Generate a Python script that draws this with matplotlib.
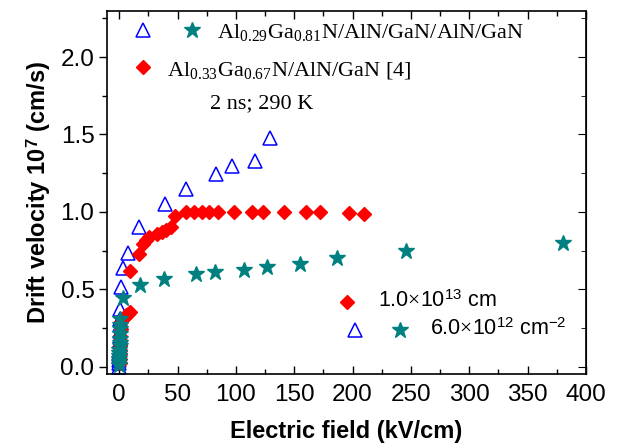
import numpy as np
import matplotlib
matplotlib.use("Agg")
import matplotlib.pyplot as plt

plt.rcParams['font.family'] = ['Liberation Sans', 'DejaVu Sans']
plt.rcParams['mathtext.fontset'] = 'custom'
plt.rcParams['mathtext.rm'] = 'Liberation Serif'
plt.rcParams['mathtext.it'] = 'Liberation Serif:italic'
plt.rcParams['mathtext.sf'] = 'Liberation Sans'
plt.rcParams['mathtext.bf'] = 'Liberation Sans:bold'

# Al0.29Ga0.81N/AlN/GaN/AlN/GaN, 6e12 (open triangles)
tri_x = [0.0, 0.0, 0.1, 0.1, 0.2, 0.2, 0.3, 0.3, 0.4, 0.5, 0.6, 0.8, 1.0, 1.0,
         1.9, 3.3, 7.6, 17.0, 39.0, 57.0, 83.0, 97.0, 116.0, 129.0]
tri_y = [0.0, 0.02, 0.04, 0.06, 0.08, 0.10, 0.12, 0.14, 0.17, 0.20, 0.23, 0.27, 0.31, 0.37,
         0.515, 0.635, 0.735, 0.90, 1.05, 1.145, 1.243, 1.297, 1.327, 1.48]

# Al0.33Ga0.67N/AlN/GaN [4], 1e13 (diamonds)
dia_x = [0.5, 0.5, 0.6, 0.7, 0.8, 0.9, 1.0, 1.2, 1.5, 4.7, 6.0, 7.5, 9.6, 9.6,
         17.0, 20.5, 23.0, 25.5, 32.5, 37.0, 40.0, 44.0, 47.7, 57.0, 64.3, 70.6,
         77.2, 84.4, 98.4, 113.6, 123.0, 141.3, 160.0, 172.0, 197.0, 209.5]
dia_y = [0.02, 0.05, 0.08, 0.11, 0.14, 0.17, 0.20, 0.24, 0.29, 0.32, 0.33, 0.34, 0.35, 0.62,
         0.73, 0.79, 0.82, 0.835, 0.855, 0.87, 0.885, 0.905, 0.975, 1.0, 1.0, 1.0,
         1.0, 1.0, 1.0, 1.0, 1.0, 1.0, 1.0, 1.0, 0.99, 0.985]

# Al0.29Ga0.81N/AlN/GaN/AlN/GaN, 6e12 (stars)
star_x = [0.0, 0.0, 0.1, 0.1, 0.2, 0.2, 0.3, 0.3, 0.4, 0.4, 0.5, 0.6, 1.0, 3.3,
          17.6, 38.5, 65.7, 82.3, 107.0, 126.4, 155.0, 187.0, 246.0, 380.0]
star_y = [0.01, 0.03, 0.05, 0.07, 0.09, 0.11, 0.13, 0.15, 0.18, 0.21, 0.24, 0.27, 0.31, 0.44,
          0.53, 0.566, 0.60, 0.613, 0.624, 0.645, 0.66, 0.70, 0.75, 0.80]

teal = '#008080'

fig = plt.figure(figsize=(6.18, 4.44), dpi=100)
ax = fig.add_axes([0.173, 0.157, 0.775, 0.819])

ax.plot(tri_x, tri_y, ls='none', marker='^', ms=10, mfc='none', mec='#0000ff', mew=1.1)
ax.plot(dia_x, dia_y, ls='none', marker='D', ms=7.5, mfc='red', mec='red')
ax.plot(star_x, star_y, ls='none', marker='*', ms=12, mfc=teal, mec=teal)

ax.set_xlim(-10.5, 400)
ax.set_ylim(-0.05, 2.3)
ax.set_xticks(np.arange(0, 401, 50))
ax.set_xticks(np.arange(25, 400, 50), minor=True)
ax.set_yticks(np.arange(0, 2.01, 0.5))
ax.set_yticks(np.arange(0.25, 2.3, 0.5), minor=True)
ax.yaxis.set_major_formatter(matplotlib.ticker.FormatStrFormatter('%.1f'))

ax.tick_params(axis='x', which='both', direction='in', top=True, labelsize=17.5, pad=7)
ax.tick_params(axis='y', which='both', direction='out', labelsize=17.5, pad=3)
ax.tick_params(which='major', length=6, width=1)
ax.tick_params(which='minor', length=3.5, width=1)
# right side ticks point inward
ax2 = ax.secondary_yaxis('right')
ax2.set_yticks(np.arange(0, 2.01, 0.5))
ax2.set_yticks(np.arange(0.25, 2.3, 0.5), minor=True)
ax2.tick_params(which='both', direction='in', labelright=False)
ax2.tick_params(which='major', length=6)
ax2.tick_params(which='minor', length=3.5)
for s in ax.spines.values():
    s.set_linewidth(1.2)

ax.set_xlabel('Electric field (kV/cm)', fontsize=17, fontweight='bold', labelpad=10)
ax.set_ylabel(r'Drift velocity 10$^{\mathbf{7}}$ (cm/s)', fontsize=17, fontweight='bold', labelpad=5)

# upper-left key
tr = ax.transAxes
ax.plot([0.075], [0.947], transform=tr, marker='^', ms=10, mfc='none', mec='#0000ff', mew=1.1, clip_on=False)
ax.plot([0.177], [0.947], transform=tr, marker='*', ms=12, mfc=teal, mec=teal, clip_on=False)
ax.text(0.230, 0.925, r'Al$_{0.29}$Ga$_{0.81}$N/AlN/GaN/AlN/GaN', transform=tr,
        fontsize=16, family='Liberation Serif', va='baseline')
ax.plot([0.075], [0.845], transform=tr, marker='D', ms=7.5, mfc='red', mec='red', clip_on=False)
ax.text(0.125, 0.823, r'Al$_{0.33}$Ga$_{0.67}$N/AlN/GaN [4]', transform=tr,
        fontsize=16, family='Liberation Serif', va='baseline')
ax.text(0.215, 0.732, '2 ns; 290 K', transform=tr, fontsize=16,
        family='Liberation Serif', va='baseline')

# lower-right key
ax.plot([0.501], [0.199], transform=tr, marker='D', ms=7.5, mfc='red', mec='red', clip_on=False)
ax.text(0.566, 0.186, r'1.0$\times$10$^{\mathsf{13}}$ cm', transform=tr, fontsize=15.5, va='baseline')
ax.plot([0.518], [0.122], transform=tr, marker='^', ms=10, mfc='none', mec='#0000ff', mew=1.1, clip_on=False)
ax.plot([0.612], [0.122], transform=tr, marker='*', ms=12, mfc=teal, mec=teal, clip_on=False)
ax.text(0.674, 0.108, r'6.0$\times$10$^{\mathsf{12}}$ cm$^{\mathsf{-2}}$', transform=tr, fontsize=15.5, va='baseline')

fig.savefig('out.png', dpi=100)
